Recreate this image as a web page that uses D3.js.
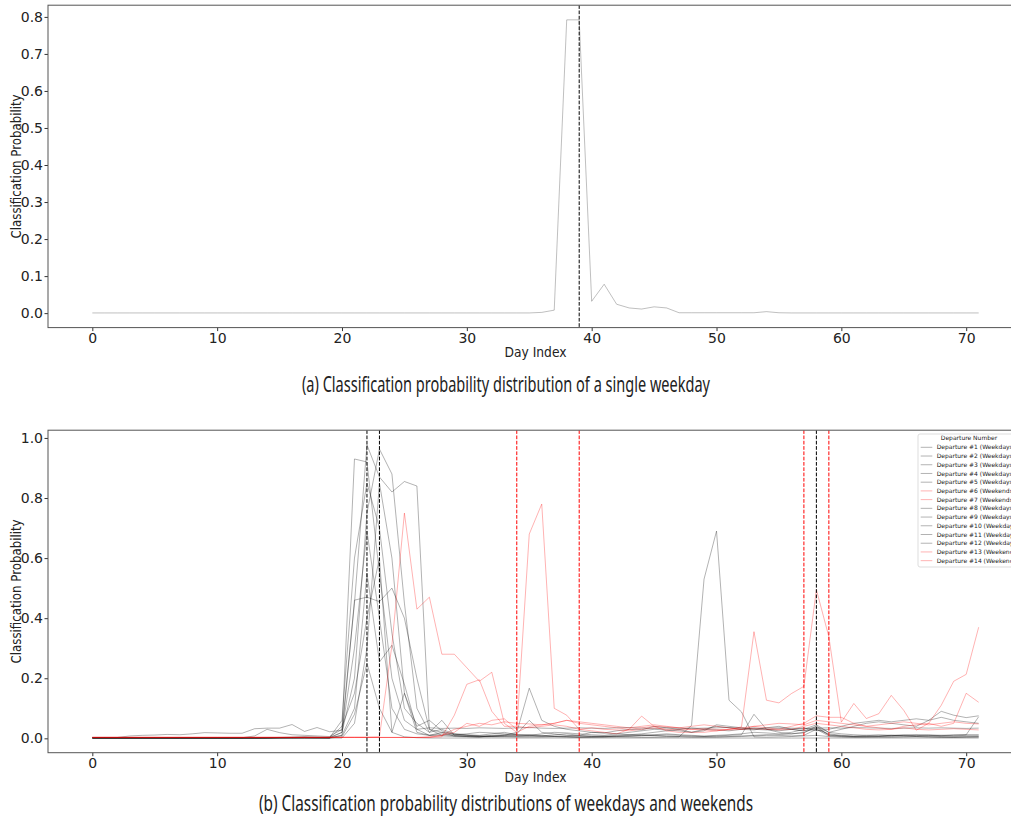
<!DOCTYPE html>
<html>
<head>
<meta charset="utf-8">
<script src="https://cdn.jsdelivr.net/npm/d3@7"></script>
<style>
body { margin: 0; background: #fff; }
svg { display: block; }
text { font-family: "DejaVu Sans", sans-serif; fill: #222; }
</style>
</head>
<body>
<svg width="1011" height="816"></svg>
<script>
var svg = d3.select("svg"),
    width = +svg.attr("width"),
    height = +svg.attr("height");

/*=====================================================================================================
                                         Data
======================================================================================================*/
var days = d3.range(72);
var xTicks = [0, 10, 20, 30, 40, 50, 60, 70];
var yTicksTop = [0, 0.1, 0.2, 0.3, 0.4, 0.5, 0.6, 0.7, 0.8];
var yTicksBottom = [0, 0.2, 0.4, 0.6, 0.8, 1.0];

// (a) one weekday
var singleWeekday = [
  .0005,.0005,.0005,.0005,.0005,.0005,.0005,.0005,.0005,.0005,
  .0005,.0005,.0005,.0005,.0005,.0005,.0005,.0005,.0005,.0005,
  .0005,.0005,.0005,.0005,.0005,.0005,.0005,.0005,.0005,.0005,
  .0005,.0005,.0005,.0005,.0005,.0005,.002,.008,.792,.792,
  .032,.078,.024,.014,.011,.017,.014,.001,.001,.001,
  .001,.001,.001,.001,.004,.001,.0005,.0005,.0005,.0005,
  .0005,.0005,.0005,.0005,.0005,.0005,.0005,.0005,.0005,.0005,
  .0005,.0005
];
var singleMarkers = [39];

// (b) fourteen departures
var dep1 = [
  .003,.003,.003,.008,.010,.011,.013,.012,.015,.019,
  .018,.017,.017,.032,.034,.034,.046,.023,.036,.022,
  .027,.930,.920,.550,.200,.060,.030,.035,.033,.034,
  .033,.035,.034,.033,.035,.036,.034,.033,.034,.035,
  .034,.033,.035,.036,.034,.033,.035,.034,.033,.034,
  .035,.036,.034,.033,.034,.035,.034,.033,.034,.035,
  .034,.036,.035,.034,.033,.034,.035,.034,.035,.034,
  .033,.034
];
var dep2 = [
  .002,.002,.002,.002,.002,.002,.002,.002,.002,.002,
  .002,.002,.002,.008,.030,.019,.012,.010,.008,.006,
  .030,.450,.977,.870,.820,.855,.840,.030,.020,.015,
  .012,.010,.015,.020,.012,.010,.008,.012,.015,.010,
  .020,.018,.025,.030,.028,.040,.035,.030,.020,.025,
  .045,.040,.035,.030,.028,.032,.030,.025,.040,.020,
  .030,.040,.050,.055,.050,.045,.040,.060,.090,.077,
  .069,.075
];
var dep3 = [
  .001,.001,.001,.001,.001,.001,.001,.001,.001,.001,
  .001,.001,.001,.001,.002,.003,.004,.005,.004,.003,
  .020,.200,.750,.963,.880,.450,.100,.020,.060,.010,
  .008,.006,.010,.012,.015,.060,.020,.015,.010,.008,
  .006,.005,.008,.010,.012,.010,.008,.006,.005,.006,
  .008,.010,.012,.080,.030,.020,.015,.018,.040,.010,
  .008,.006,.005,.006,.008,.010,.012,.010,.008,.010,
  .012,.010
];
var dep4 = [
  .001,.001,.001,.001,.001,.001,.001,.001,.001,.001,
  .001,.001,.001,.001,.001,.002,.002,.003,.002,.002,
  .010,.460,.470,.455,.500,.400,.200,.030,.010,.012,
  .015,.020,.018,.015,.012,.010,.015,.020,.018,.015,
  .012,.010,.015,.020,.025,.030,.028,.025,.020,.030,
  .040,.035,.030,.028,.035,.040,.030,.025,.030,.015,
  .010,.008,.010,.012,.010,.008,.010,.012,.010,.008,
  .010,.012
];
var dep5 = [
  .001,.001,.001,.001,.001,.001,.001,.001,.001,.001,
  .001,.001,.001,.001,.001,.001,.001,.001,.001,.001,
  .010,.100,.550,.254,.310,.180,.030,.010,.020,.008,
  .006,.005,.008,.010,.006,.005,.004,.006,.008,.010,
  .008,.006,.005,.006,.008,.010,.012,.010,.008,.006,
  .005,.006,.008,.010,.012,.010,.008,.010,.030,.008,
  .006,.005,.006,.008,.010,.008,.006,.008,.010,.012,
  .012,.072
];
var dep6 = [
  .004,.004,.004,.004,.004,.004,.004,.004,.004,.004,
  .004,.004,.004,.004,.004,.004,.004,.004,.004,.004,
  .004,.004,.004,.005,.310,.750,.430,.470,.280,.280,
  .235,.190,.220,.050,.020,.040,.045,.050,.060,.050,
  .045,.040,.035,.030,.035,.040,.038,.035,.040,.045,
  .040,.035,.030,.040,.045,.050,.048,.045,.060,.055,
  .050,.045,.040,.045,.050,.055,.050,.045,.050,.055,
  .050,.048
];
var dep7 = [
  .003,.003,.003,.003,.003,.003,.003,.003,.003,.003,
  .003,.003,.003,.003,.003,.003,.003,.003,.003,.003,
  .003,.003,.003,.003,.003,.003,.003,.005,.010,.020,
  .050,.040,.060,.065,.030,.680,.780,.100,.077,.030,
  .035,.030,.028,.025,.030,.035,.030,.028,.030,.032,
  .030,.028,.030,.032,.030,.028,.030,.040,.050,.045,
  .040,.035,.030,.028,.030,.035,.030,.028,.030,.032,
  .030,.028
];
var dep8 = [
  .002,.002,.002,.002,.002,.002,.002,.002,.002,.002,
  .002,.002,.002,.002,.002,.002,.002,.002,.002,.002,
  .060,.600,.850,.700,.350,.100,.050,.020,.030,.015,
  .010,.008,.006,.008,.010,.012,.010,.008,.006,.005,
  .004,.005,.006,.008,.010,.012,.015,.012,.010,.008,
  .010,.012,.015,.020,.018,.015,.020,.030,.045,.020,
  .015,.012,.010,.008,.010,.012,.010,.008,.006,.005,
  .005,.006
];
var dep9 = [
  .001,.001,.001,.001,.001,.001,.001,.001,.001,.001,
  .001,.001,.001,.001,.001,.001,.001,.001,.001,.001,
  .001,.050,.300,.850,.600,.150,.040,.060,.025,.012,
  .010,.008,.006,.005,.004,.005,.006,.005,.004,.003,
  .003,.004,.005,.004,.003,.003,.004,.005,.004,.003,
  .004,.005,.006,.008,.010,.012,.015,.020,.035,.012,
  .008,.006,.005,.004,.003,.004,.005,.004,.003,.004,
  .005,.004
];
var dep10 = [
  .001,.001,.001,.001,.001,.001,.001,.001,.001,.001,
  .001,.001,.001,.001,.001,.001,.001,.001,.001,.001,
  .020,.300,.690,.400,.100,.030,.015,.010,.008,.006,
  .005,.004,.005,.006,.008,.010,.008,.006,.005,.004,
  .006,.008,.010,.012,.010,.008,.006,.005,.043,.530,
  .690,.127,.088,.005,.004,.005,.006,.008,.010,.006,
  .004,.003,.004,.005,.006,.008,.006,.005,.004,.003,
  .004,.005
];
var dep11 = [
  .001,.001,.001,.001,.001,.001,.001,.001,.001,.001,
  .001,.001,.001,.001,.001,.002,.003,.004,.003,.002,
  .040,.150,.400,.600,.020,.150,.020,.010,.015,.008,
  .006,.005,.008,.010,.020,.167,.060,.040,.030,.025,
  .020,.018,.015,.012,.015,.020,.025,.030,.035,.030,
  .028,.025,.030,.035,.030,.025,.030,.035,.025,.030,
  .040,.050,.055,.060,.055,.060,.065,.060,.070,.060,
  .055,.050
];
var dep12 = [
  .001,.001,.001,.001,.001,.001,.001,.001,.001,.001,
  .001,.001,.001,.001,.001,.001,.001,.001,.001,.001,
  .005,.080,.250,.100,.020,.005,.002,.001,.001,.001,
  .001,.001,.001,.001,.001,.001,.001,.001,.001,.001,
  .001,.001,.001,.001,.001,.001,.001,.001,.001,.001,
  .001,.001,.001,.001,.001,.001,.001,.001,.001,.001,
  .001,.001,.001,.001,.001,.001,.001,.001,.001,.001,
  .001,.001
];
var dep13 = [
  .003,.003,.003,.003,.003,.003,.003,.003,.003,.003,
  .003,.003,.003,.003,.003,.003,.003,.003,.003,.003,
  .003,.003,.003,.003,.003,.003,.003,.003,.005,.077,
  .180,.195,.090,.040,.040,.035,.040,.045,.040,.030,
  .025,.020,.015,.030,.074,.040,.025,.020,.020,.020,
  .025,.030,.038,.355,.127,.118,.149,.173,.495,.338,
  .054,.116,.066,.082,.143,.093,.027,.050,.110,.190,
  .213,.370
];
var dep14 = [
  .003,.003,.003,.003,.003,.003,.003,.003,.003,.003,
  .003,.003,.003,.003,.003,.003,.003,.003,.003,.003,
  .003,.003,.003,.003,.003,.003,.003,.003,.010,.030,
  .040,.050,.045,.055,.050,.048,.045,.050,.060,.055,
  .050,.045,.040,.035,.040,.045,.040,.035,.030,.028,
  .025,.030,.035,.040,.035,.030,.040,.050,.075,.070,
  .070,.050,.040,.035,.030,.040,.045,.050,.040,.050,
  .150,.120
];
var departures = [dep1, dep2, dep3, dep4, dep5, dep6, dep7, dep8, dep9, dep10, dep11, dep12, dep13, dep14];
var departureLabels = [
  "Departure #1 (Weekdays)", "Departure #2 (Weekdays)", "Departure #3 (Weekdays)",
  "Departure #4 (Weekdays)", "Departure #5 (Weekdays)", "Departure #6 (Weekends)",
  "Departure #7 (Weekends)", "Departure #8 (Weekdays)", "Departure #9 (Weekdays)",
  "Departure #10 (Weekdays)", "Departure #11 (Weekdays)", "Departure #12 (Weekdays)",
  "Departure #13 (Weekends)", "Departure #14 (Weekends)"
];
var departureWeekend = [false, false, false, false, false, true, true, false, false, false, false, false, true, true];
var weekdayMarkers = [22, 23, 58];
var weekendMarkers = [34, 39, 57, 59];

var grayLine = "rgba(0,0,0,0.3)",
    redLine = "rgba(255,0,0,0.3)";

/*=====================================================================================================
                                         Panels
======================================================================================================*/
// matplotlib style 5% margins
function pad(ext) {
    var d = (ext[1] - ext[0]) * 0.05;
    return [ext[0] - d, ext[1] + d];
}

function drawPanel(opt) {
    var g = svg.append("g");
    var x = d3.scaleLinear().domain(pad([0, days.length - 1])).range([opt.left, opt.right]);
    var ext = d3.extent(d3.merge(opt.series.map(function(s) { return s.values; })));
    var y = d3.scaleLinear().domain(pad(ext)).range([opt.bottom, opt.top]);

    g.append("clipPath").attr("id", opt.id)
      .append("rect")
        .attr("x", opt.left).attr("y", opt.top)
        .attr("width", opt.right - opt.left).attr("height", opt.bottom - opt.top);

    var plot = g.append("g").attr("clip-path", "url(#" + opt.id + ")");
    var line = d3.line().x(function(d, i) { return x(days[i]); }).y(function(d) { return y(d); });

    // weekday lines first so the weekend ones stay visible on top
    opt.series.slice().sort(function(a, b) { return a.order - b.order; }).forEach(function(s) {
        plot.append("path")
            .attr("d", line(s.values))
            .attr("fill", "none")
            .attr("stroke", s.color)
            .attr("stroke-width", 1)
            .attr("stroke-linejoin", "round");
    });

    opt.markers.forEach(function(m) {
        plot.append("line")
            .attr("x1", x(m.day)).attr("x2", x(m.day))
            .attr("y1", opt.top).attr("y2", opt.bottom)
            .attr("stroke", m.color)
            .attr("stroke-width", 1)
            .attr("stroke-dasharray", "3.7,1.6");
    });

    // axes
    var xAxis = g.append("g")
        .attr("transform", "translate(0," + opt.bottom + ")")
        .call(d3.axisBottom(x).tickValues(xTicks).tickSize(3.5).tickPadding(1.5).tickFormat(d3.format("d")));
    var yAxis = g.append("g")
        .attr("transform", "translate(" + opt.left + ",0)")
        .call(d3.axisLeft(y).tickValues(opt.yTicks).tickSize(3.5).tickPadding(1.5).tickFormat(d3.format(".1f")));
    [xAxis, yAxis].forEach(function(a) {
        a.select(".domain").remove();
        a.selectAll(".tick line").attr("stroke", "#333");
        a.selectAll("text").attr("font-size", 14).attr("fill", "#222")
            .attr("font-family", "DejaVu Sans, sans-serif");
    });

    g.append("rect")
        .attr("x", opt.left).attr("y", opt.top)
        .attr("width", opt.right - opt.left).attr("height", opt.bottom - opt.top)
        .attr("fill", "none").attr("stroke", "#555").attr("stroke-width", 1);

    g.append("text")
        .attr("x", (opt.left + opt.right) / 2).attr("y", opt.bottom + 29)
        .attr("text-anchor", "middle").attr("font-size", 14)
        .attr("textLength", 62).attr("lengthAdjust", "spacingAndGlyphs")
        .text("Day Index");

    var cy = (opt.top + opt.bottom) / 2;
    g.append("text")
        .attr("transform", "translate(21," + cy + ") rotate(-90)")
        .attr("text-anchor", "middle").attr("font-size", 14)
        .attr("textLength", 144).attr("lengthAdjust", "spacingAndGlyphs")
        .text("Classification Probability");

    g.append("text")
        .attr("x", 506).attr("y", opt.captionY)
        .attr("text-anchor", "middle").attr("font-size", 22)
        .style("font-family", "'Noto Sans', sans-serif")
        .attr("textLength", opt.captionWidth).attr("lengthAdjust", "spacingAndGlyphs")
        .text(opt.caption);

    return { g: g, x: x, y: y };
}

drawPanel({
    id: "clipA", left: 48, right: 1023, top: 5.2, bottom: 327.6,
    yTicks: yTicksTop,
    series: [{ values: singleWeekday, color: "rgba(0,0,0,0.25)", order: 0 }],
    markers: singleMarkers.map(function(d) { return { day: d, color: "#000" }; }),
    caption: "(a) Classification probability distribution of a single weekday",
    captionY: 392, captionWidth: 408
});

var panelB = drawPanel({
    id: "clipB", left: 48, right: 1023, top: 430.2, bottom: 752.7,
    yTicks: yTicksBottom,
    series: departures.map(function(v, i) {
        return {
            values: v,
            color: departureWeekend[i] ? redLine : grayLine,
            order: departureWeekend[i] ? 100 + i : i
        };
    }),
    markers: weekdayMarkers.map(function(d) { return { day: d, color: "#000" }; })
        .concat(weekendMarkers.map(function(d) { return { day: d, color: "#f00" }; })),
    caption: "(b) Classification probability distributions of weekdays and weekends",
    captionY: 811, captionWidth: 494
});

/*=====================================================================================================
                                         Legend
======================================================================================================*/
var legend = panelB.g.append("g").attr("transform", "translate(918,434)");
legend.append("rect")
    .attr("width", 120).attr("height", 133).attr("rx", 2)
    .attr("fill", "#fff").attr("stroke", "#ddd").attr("stroke-width", 1);
legend.append("text")
    .attr("x", 51).attr("y", 6.2)
    .attr("text-anchor", "middle").attr("font-size", 6)
    .text("Departure Number");

var item = legend.selectAll(".item")
    .data(departureLabels)
    .enter().append("g")
    .attr("class", "item")
    .attr("transform", function(d, i) { return "translate(0," + (13.3 + i * 8.72) + ")"; });
item.append("line")
    .attr("x1", 2.7).attr("x2", 14.3)
    .attr("stroke", function(d, i) { return departureWeekend[i] ? redLine : grayLine; })
    .attr("stroke-width", 1);
item.append("text")
    .attr("x", 18.7).attr("y", 2.1)
    .attr("font-size", 6)
    .text(function(d) { return d; });
</script>
</body>
</html>
